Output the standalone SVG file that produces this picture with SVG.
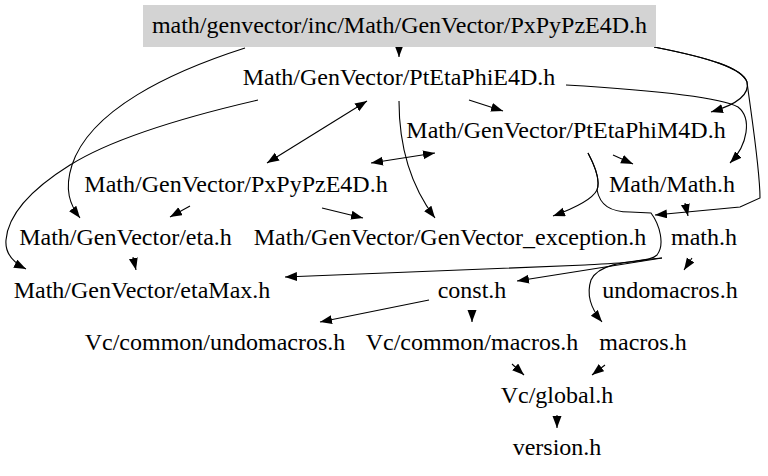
<svg xmlns="http://www.w3.org/2000/svg" width="768" height="476" viewBox="0 0 768 476">
<style>
text{font-family:"Liberation Serif","Times New Roman",serif;font-size:24px;fill:#000;text-anchor:middle}
.e{fill:none;stroke:#000;stroke-width:1.1;marker-end:url(#ah)}
.b{marker-start:url(#ahs)}
</style>
<defs>
<marker id="ah" markerUnits="userSpaceOnUse" markerWidth="14" markerHeight="10" refX="12" refY="4.5" orient="auto"><path d="M0,0 L12,4.5 L0,9 z" fill="#000"/></marker>
<marker id="ahs" markerUnits="userSpaceOnUse" markerWidth="14" markerHeight="10" refX="12" refY="4.5" orient="auto-start-reverse"><path d="M0,0 L12,4.5 L0,9 z" fill="#000"/></marker>
</defs>
<rect width="768" height="476" fill="#fff"/>
<g id="edges">
<path class="e" d="M399,46 L399,57"/>
<path class="e" d="M245,48 C170,72 90,110 72,165 C64,190 70,205 80,218"/>
<path class="e" d="M258,100 C180,118 110,140 70,165 C30,190 8,215 6,240 C5,252 12,262 26,269"/>
<path class="e b" d="M267,163 L367,101"/>
<path class="e b" d="M371,163 L435,153"/>
<path class="e" d="M469,100 L503,111"/>
<path class="e" d="M399,101 C399,145 410,185 435,218"/>
<path class="e" d="M654,47 C710,58 742,68 747,82 C750,95 735,105 711,112"/>
<path class="e" d="M654,47 C710,58 742,68 747,82 C752,120 760,170 760,198 L740,207 L655,215"/>
<path class="e" d="M566,85 C650,90 720,97 738,107 C752,118 748,145 730,163"/>
<path class="e" d="M613,155 L633,164"/>
<path class="e" d="M588,153 C596,168 600,182 597,190 C592,200 575,208 553,216"/>
<path class="e" d="M588,153 C596,168 600,182 597,190 C600,205 610,212 630,212 L651,213 C660,225 665,245 657,255 C650,262 620,263 585,265 L285,277"/>
<path class="e" d="M662,258 L517,281"/>
<path class="e" d="M662,258 C620,262 598,265 591,280 C586,295 592,310 602,322"/>
<path class="e" d="M692,258 L684,270"/>
<path class="e" d="M685,203 L688,216"/>
<path class="e" d="M190,206 L170,217"/>
<path class="e" d="M322,208 L363,218"/>
<path class="e" d="M133,257 L136,270"/>
<path class="e" d="M429,300 L320,322"/>
<path class="e" d="M472,310 L472,322"/>
<path class="e" d="M512,364 L524,375"/>
<path class="e" d="M605,365 L592,375"/>
<path class="e" d="M557,415 L557,428"/>
</g>
<g id="root"><rect x="143" y="5" width="513" height="42" fill="#d3d3d3"/><text x="399.5" y="33">math/genvector/inc/Math/GenVector/PxPyPzE4D.h</text></g>
<g id="PtEtaPhiE4D"><text x="399" y="85">Math/GenVector/PtEtaPhiE4D.h</text></g>
<g id="PtEtaPhiM4D"><text x="566" y="138">Math/GenVector/PtEtaPhiM4D.h</text></g>
<g id="PxPyPzE4D"><text x="236" y="192">Math/GenVector/PxPyPzE4D.h</text></g>
<g id="MathMath"><text x="672" y="192">Math/Math.h</text></g>
<g id="eta"><text x="125.5" y="245">Math/GenVector/eta.h</text></g>
<g id="GenVector_exception"><text x="450" y="245">Math/GenVector/GenVector_exception.h</text></g>
<g id="math"><text x="704" y="245">math.h</text></g>
<g id="etaMax"><text x="142" y="298">Math/GenVector/etaMax.h</text></g>
<g id="const"><text x="472" y="298">const.h</text></g>
<g id="undomacros"><text x="670" y="298">undomacros.h</text></g>
<g id="Vc_undomacros"><text x="215" y="350">Vc/common/undomacros.h</text></g>
<g id="Vc_macros"><text x="472" y="350">Vc/common/macros.h</text></g>
<g id="macros"><text x="643" y="350">macros.h</text></g>
<g id="global"><text x="557" y="403">Vc/global.h</text></g>
<g id="version"><text x="557" y="455">version.h</text></g>
</svg>
